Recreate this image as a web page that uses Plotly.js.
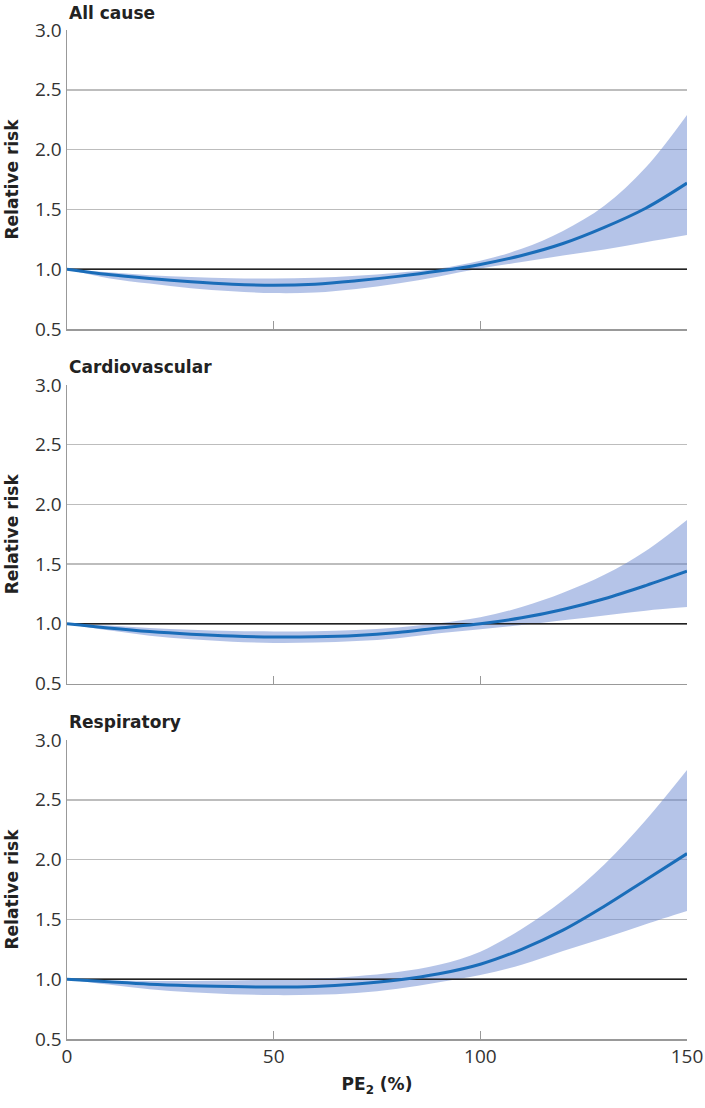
<!DOCTYPE html>
<html>
<head>
<meta charset="utf-8">
<script src="https://cdn.plot.ly/plotly-3.0.1.min.js"></script>
<style>
html,body{margin:0;padding:0;background:#fff;}
#chart{width:705px;height:1108px;}
</style>
</head>
<body>
<div id="chart"></div>
<script>
// PE2 (%) positions
const pe2 = [0,10,20,30,40,50,60,70,80,90,100,110,120,130,140,150];

// All cause
const allRR    = [1.0,0.955,0.922,0.895,0.875,0.866,0.875,0.903,0.94,0.985,1.04,1.115,1.215,1.35,1.51,1.72];
const allUpper = [1.0,0.975,0.95,0.935,0.925,0.922,0.928,0.945,0.97,1.005,1.07,1.17,1.32,1.53,1.85,2.29];
const allLower = [1.0,0.925,0.88,0.84,0.815,0.80,0.805,0.835,0.88,0.94,1.005,1.06,1.115,1.165,1.225,1.285];

// Cardiovascular
const cvRR    = [1.0,0.965,0.935,0.913,0.897,0.889,0.891,0.902,0.927,0.965,1.0,1.05,1.12,1.21,1.32,1.44];
const cvUpper = [1.0,0.985,0.965,0.95,0.94,0.936,0.938,0.948,0.97,1.005,1.055,1.14,1.26,1.41,1.61,1.87];
const cvLower = [1.0,0.945,0.90,0.87,0.85,0.84,0.843,0.855,0.88,0.92,0.955,0.99,1.03,1.07,1.11,1.14];

// Respiratory
const resRR    = [1.0,0.978,0.958,0.946,0.938,0.935,0.94,0.96,0.993,1.045,1.125,1.25,1.41,1.61,1.83,2.05];
const resUpper = [1.0,0.99,0.985,0.985,0.99,0.995,1.005,1.025,1.06,1.12,1.23,1.42,1.66,1.96,2.33,2.75];
const resLower = [1.0,0.955,0.915,0.89,0.875,0.867,0.87,0.885,0.92,0.975,1.035,1.12,1.235,1.345,1.46,1.57];

// Reference line (relative risk = 1)
const refX = [0,150];
const refY = [1,1];

const panelTitles = ["All cause","Cardiovascular","Respiratory"];
const yTickVals = [0.5,1.0,1.5,2.0,2.5,3.0];
const xTickVals = [0,50,100,150];

const lineColor = "#1a6db9";
const bandColor = "rgba(108,138,210,0.5)";
const FONT = "'Open Sans', 'Noto Sans', sans-serif";
const TFONT = "'DejaVu Sans', 'Open Sans', sans-serif";

const series = [
  {rr: allRR, up: allUpper, lo: allLower},
  {rr: cvRR, up: cvUpper, lo: cvLower},
  {rr: resRR, up: resUpper, lo: resLower}
];

const traces = [];
series.forEach((s, i) => {
  const xa = i === 0 ? "x" : "x" + (i + 1);
  const ya = i === 0 ? "y" : "y" + (i + 1);
  traces.push({x: pe2, y: s.lo, xaxis: xa, yaxis: ya, mode: "lines", line: {width: 0, color: bandColor, shape: "spline"}, hoverinfo: "skip", showlegend: false});
  traces.push({x: pe2, y: s.up, xaxis: xa, yaxis: ya, mode: "lines", fill: "tonexty", fillcolor: bandColor, line: {width: 0, color: bandColor, shape: "spline"}, hoverinfo: "skip", showlegend: false});
  traces.push({x: refX, y: refY, xaxis: xa, yaxis: ya, mode: "lines", line: {width: 1.5, color: "#222"}, hoverinfo: "skip", showlegend: false});
  traces.push({x: pe2, y: s.rr, xaxis: xa, yaxis: ya, mode: "lines", line: {width: 3, color: lineColor, shape: "spline"}, showlegend: false});
});

const H = 1009;
const domains = [
  [(1039-329)/H, 1],
  [(1039-683.5)/H, (1039-385)/H],
  [0, (1039-740)/H]
];

function xAxis(i){
  return {
    domain: [0,1], anchor: i === 0 ? "y" : "y" + (i+1),
    range: [0,150], tickvals: xTickVals, ticks: "inside", ticklen: 8, tickwidth: 1, tickcolor: "#999",
    showticklabels: i === 2, showgrid: false, zeroline: false,
    showline: true, linecolor: "#999", linewidth: 1.5,
    tickfont: {family: FONT, size: 19, color: "#333"},
    fixedrange: true
  };
}
function yAxis(i){
  return {
    domain: domains[i], anchor: i === 0 ? "x" : "x" + (i+1),
    range: [0.5,3.0], tickvals: yTickVals, tickformat: ".1f",
    ticks: "", showgrid: true, gridcolor: "#bdbdbd", gridwidth: 1.5, zeroline: false,
    showline: true, linecolor: "#999", linewidth: 1.5,
    tickfont: {family: FONT, size: 19, color: "#333"},
    title: {text: "<b>Relative risk</b>", font: {family: TFONT, size: 17, color: "#222"}, standoff: 12},
    fixedrange: true
  };
}

const layout = {
  width: 705, height: 1108,
  margin: {l: 67, r: 18, t: 30, b: 69},
  paper_bgcolor: "#fff", plot_bgcolor: "#fff",
  font: {family: FONT, color: "#333"},
  showlegend: false,
  xaxis: xAxis(0), xaxis2: xAxis(1), xaxis3: xAxis(2),
  yaxis: yAxis(0), yaxis2: yAxis(1), yaxis3: yAxis(2),
  annotations: [
    {text: "<b>" + panelTitles[0] + "</b>", xref: "paper", yref: "paper", x: 0, y: (1039-13)/H, xanchor: "left", yanchor: "middle", showarrow: false, font: {family: TFONT, size: 17, color: "#222"}},
    {text: "<b>" + panelTitles[1] + "</b>", xref: "paper", yref: "paper", x: 0, y: (1039-367)/H, xanchor: "left", yanchor: "middle", showarrow: false, font: {family: TFONT, size: 17, color: "#222"}},
    {text: "<b>" + panelTitles[2] + "</b>", xref: "paper", yref: "paper", x: 0, y: (1039-722)/H, xanchor: "left", yanchor: "middle", showarrow: false, font: {family: TFONT, size: 17, color: "#222"}}
  ]
};
layout.xaxis3.title = {text: "<b>PE<sub>2</sub> (%)</b>", font: {family: TFONT, size: 17, color: "#222"}, standoff: 10};

Plotly.newPlot("chart", traces, layout, {displayModeBar: false, staticPlot: true});
</script>
</body>
</html>
